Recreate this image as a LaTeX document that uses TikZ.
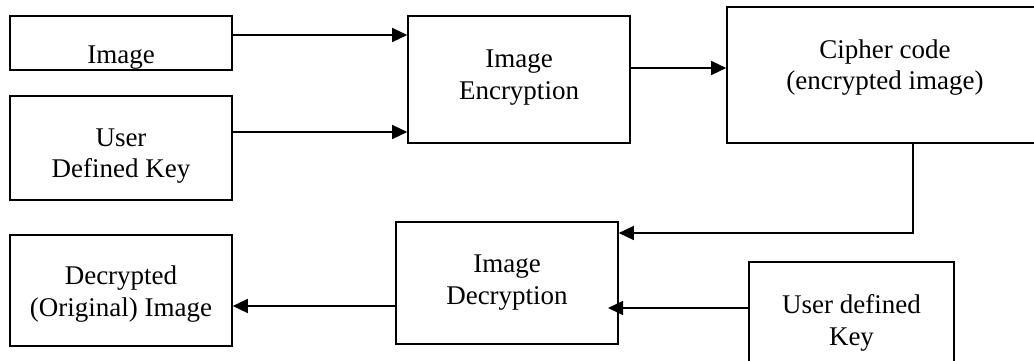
\documentclass[tikz,border=0pt]{standalone}
\usepackage{fontspec}
\setmainfont{Liberation Serif}
\usetikzlibrary{arrows.meta}
\begin{document}
\begin{tikzpicture}[x=1pt,y=-1pt,
  box/.style={draw=black, line width=1.6pt, inner sep=0pt},
  txt/.style={anchor=base, inner sep=0pt, font=\fontsize{27}{32}\selectfont},
  flow/.style={draw=black, line width=1.3pt, -{Triangle[length=15pt,width=14pt]}},
  wire/.style={draw=black, line width=1.3pt}]
\useasboundingbox (0,0) rectangle (1034,360);
\fill[white] (0,0) rectangle (1034,360);
\clip (0,0) rectangle (1034,360);

% boxes
\node[box, minimum width=222pt, minimum height=54pt]  (img)  at (121,43)    {};
\node[box, minimum width=222pt, minimum height=104pt] (udk)  at (121,148)   {};
\node[box, minimum width=222pt, minimum height=127pt] (enc)  at (519,79.5)  {};
\node[box, minimum width=316pt, minimum height=136pt] (cip)  at (885,75)    {};
\node[box, minimum width=222pt, minimum height=111pt] (dec)  at (121,290.5) {};
\node[box, minimum width=222pt, minimum height=122pt] (dcr)  at (507,283)   {};
\node[box, minimum width=205pt, minimum height=118pt] (ukey) at (851.5,321) {};

% labels
\node[txt] (imgA)  at (121,63)  {Image};
\node[txt] (udkA)  at (121,146) {User};
\node[txt] (udkB)  at (121,177) {Defined Key};
\node[txt] (encA)  at (519,67)  {Image};
\node[txt] (encB)  at (519,99)  {Encryption};
\node[txt] (cipA)  at (885,58)  {Cipher code};
\node[txt] (cipB)  at (885,89)  {(encrypted image)};
\node[txt] (decA)  at (121,284) {Decrypted};
\node[txt] (decB)  at (121,316) {(Original) Image};
\node[txt] (dcrA)  at (507,272) {Image};
\node[txt] (dcrB)  at (507,304) {Decryption};
\node[txt] (ukeyA) at (851.5,313) {User defined};
\node[txt] (ukeyB) at (851.5,345) {Key};

% rows and columns used by the connectors
\coordinate (r1) at (0,35);
\coordinate (r2) at (0,132);
\coordinate (r3) at (0,68);
\coordinate (r4) at (0,233);
\coordinate (r5) at (0,308);
\coordinate (r6) at (0,306);
\coordinate (c1) at (913,0);
\coordinate (tipin) at (608,308);

% connectors
\draw[flow] (img.east |- r1) -- (enc.west |- r1);
\draw[flow] (udk.east |- r2) -- (enc.west |- r2);
\draw[flow] (enc.east |- r3) -- (cip.west |- r3);
\draw[flow] (cip.south -| c1) -- (c1 |- r4) -- (dcr.east |- r4);
\draw[flow] (ukey.west |- r5) -- (tipin);
\draw[flow] (dcr.west |- r6) -- (dec.east |- r6);
\end{tikzpicture}
\end{document}
